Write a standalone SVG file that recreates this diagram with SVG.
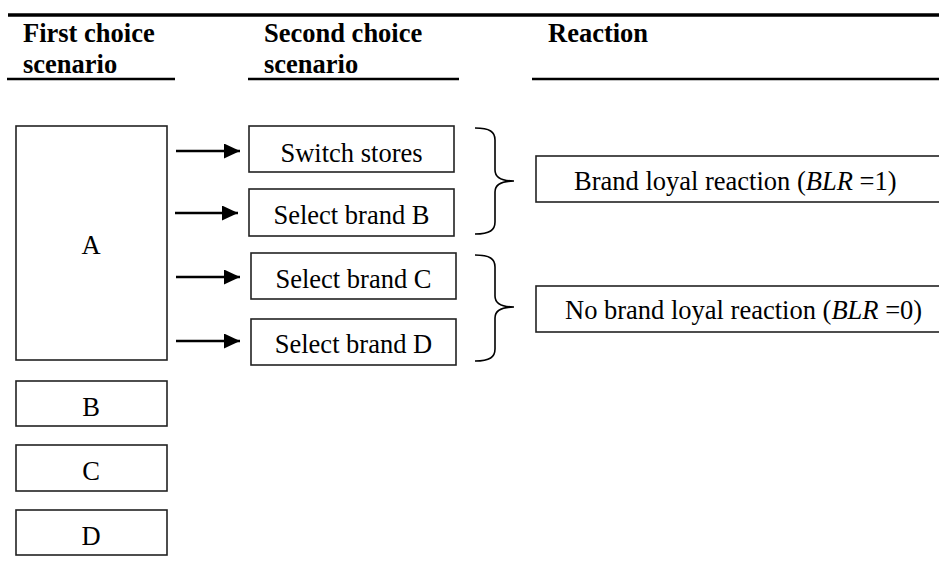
<svg xmlns="http://www.w3.org/2000/svg" width="939" height="586" viewBox="0 0 939 586" font-family="'Liberation Serif', 'Times New Roman', Times, serif">
<defs>
<style>
.box{fill:#fff;stroke:#222;stroke-width:1.6}
text{font-family:'Liberation Serif','Times New Roman',Times,serif}
.t{font-size:26.5px;fill:#000}
.h{font-size:26.5px;font-weight:bold;fill:#000}
.rule{stroke:#000;stroke-width:2.4}
.arr{stroke:#000;stroke-width:2.6;fill:none;marker-end:url(#ah)}
.brace{stroke:#000;stroke-width:1.6;fill:none}
</style>
<marker id="ah" markerWidth="17" markerHeight="15" refX="16" refY="7.5" orient="auto" markerUnits="userSpaceOnUse">
<path d="M0,0 L16,7.5 L0,15 Z" fill="#000"/>
</marker>
</defs>
<rect width="939" height="586" fill="#fff"/>
<g id="header">
<line x1="8" y1="15" x2="939" y2="15" stroke="#000" stroke-width="3.4"/>
<text class="h" x="23" y="42">First choice</text>
<text class="h" x="23" y="73">scenario</text>
<line class="rule" x1="7" y1="79" x2="175" y2="79"/>
<text class="h" x="264" y="42">Second choice</text>
<text class="h" x="264" y="73">scenario</text>
<line class="rule" x1="248" y1="79" x2="459" y2="79"/>
<text class="h" x="548" y="42">Reaction</text>
<line class="rule" x1="532" y1="79" x2="939" y2="79"/>
</g>
<g id="nodeA"><rect class="box" x="16" y="126" width="151" height="234"/><text class="t" x="91" y="254" text-anchor="middle">A</text></g>
<g id="nodeB"><rect class="box" x="16" y="381" width="151" height="45"/><text class="t" x="91" y="416" text-anchor="middle">B</text></g>
<g id="nodeC"><rect class="box" x="16" y="445" width="151" height="46"/><text class="t" x="91" y="480" text-anchor="middle">C</text></g>
<g id="nodeD"><rect class="box" x="16" y="510" width="151" height="45"/><text class="t" x="91" y="545" text-anchor="middle">D</text></g>
<g id="switch"><rect class="box" x="249" y="126" width="205" height="46"/><text class="t" x="351.5" y="162" text-anchor="middle">Switch stores</text></g>
<g id="selB"><rect class="box" x="249" y="189" width="205" height="47"/><text class="t" x="351.5" y="224" text-anchor="middle">Select brand B</text></g>
<g id="selC"><rect class="box" x="251" y="253" width="205" height="46"/><text class="t" x="353.5" y="288" text-anchor="middle">Select brand C</text></g>
<g id="selD"><rect class="box" x="251" y="319" width="205" height="46"/><text class="t" x="353.5" y="353" text-anchor="middle">Select brand D</text></g>
<g id="loyal"><rect class="box" x="536" y="156" width="410" height="46"/><text class="t" x="574" y="190">Brand loyal reaction (<tspan font-style="italic">BLR</tspan> =1)</text></g>
<g id="noloyal"><rect class="box" x="536" y="286" width="410" height="46"/><text class="t" x="565" y="319">No brand loyal reaction (<tspan font-style="italic">BLR</tspan> =0)</text></g>
<g id="connectors">
<line class="arr" x1="176" y1="151" x2="240" y2="151"/>
<line class="arr" x1="175" y1="213" x2="238" y2="213"/>
<line class="arr" x1="176" y1="277" x2="240" y2="277"/>
<line class="arr" x1="176" y1="341" x2="240" y2="341"/>
<path class="brace" d="M475,128 C490,128 495,132 495,140 L495,170 C495,178 502,181 514,181 C502,181 495,184 495,192 L495,222 C495,230 490,234 475,234"/>
<path class="brace" d="M475,255 C490,255 495,259 495,267 L495,296 C495,304 502,307 514,307 C502,307 495,310 495,318 L495,349 C495,357 490,361 475,361"/>
</g>
</svg>
